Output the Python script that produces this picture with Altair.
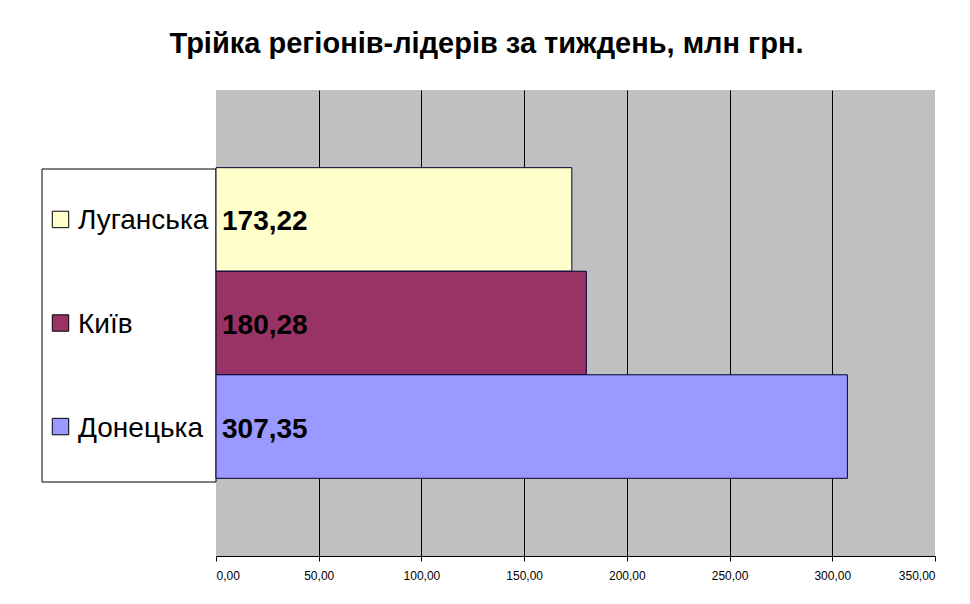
import altair as alt
import pandas as pd

regions = ["Луганська", "Київ", "Донецька"]
values = [173.22, 180.28, 307.35]
labels = ["173,22", "180,28", "307,35"]
colors = ["#FFFFCC", "#993366", "#9999FF"]
x_ticks = [0, 50, 100, 150, 200, 250, 300, 350]

df = pd.DataFrame({"region": regions, "value": values, "label": labels})

FONT = "Liberation Sans"

y_enc = alt.Y("region:N", sort=regions, axis=None,
              scale=alt.Scale(domain=regions, paddingInner=0, paddingOuter=0.75))
color_enc = alt.Color("region:N", scale=alt.Scale(domain=regions, range=colors), legend=None)

box = alt.Chart(df).mark_rect(fill="white", stroke="black", strokeWidth=1).encode(
    x=alt.value(-174), x2=alt.value(0), y=alt.value(79), y2=alt.value(392)
).transform_filter("datum.region == 'Київ'")

bars = alt.Chart(df).mark_bar(stroke="#000033", strokeWidth=1).encode(
    x=alt.X("value:Q",
            scale=alt.Scale(domain=[0, 350], nice=False, zero=True),
            axis=alt.Axis(values=x_ticks, title=None, format=".2f",
                          labelExpr="replace(datum.label, '.', ',')",
                          grid=True, gridColor="black", gridWidth=1,
                          gridOpacity={"condition": {"test": "datum.value === 0 || datum.value === 350", "value": 0}, "value": 1},
                          domainColor="black", domainWidth=1,
                          tickColor="black", tickSize=5, tickWidth=1,
                          labelFont=FONT, labelFontSize=12, labelColor="black",
                          labelPadding=9)),
    y=y_enc,
    color=color_enc,
)

text = alt.Chart(df).mark_text(align="left", baseline="middle", dx=6, dy=3,
                               font=FONT, fontSize=28, fontWeight="bold",
                               color="black").encode(
    x=alt.datum(0),
    y=y_enc,
    text="label:N",
)

sym = alt.Chart(df).mark_square(size=270, opacity=1, stroke="black", strokeWidth=1).encode(
    x=alt.value(-155.5),
    y=y_enc,
    color=color_enc,
)

legtext = alt.Chart(df).mark_text(align="left", baseline="middle", dy=2,
                                  font=FONT, fontSize=28, color="black").encode(
    x=alt.value(-138),
    y=y_enc,
    text="region:N",
)

chart = alt.layer(box, bars, text, sym, legtext).properties(
    width=719, height=466,
    padding={"left": 208, "top": 82, "right": 27, "bottom": 40},
    autosize=alt.AutoSizeParams(type="none"),
    title=alt.TitleParams(
        "Трійка регіонів-лідерів за тиждень, млн грн.",
        font=FONT, fontSize=29, fontWeight="bold", color="black",
        anchor="middle", dx=-89, offset=8, baseline="alphabetic",
    ),
).configure(background="white").configure_view(fill="#C0C0C0", stroke=None)

chart.save("out.html", embed_options={"renderer": "svg", "actions": False})
